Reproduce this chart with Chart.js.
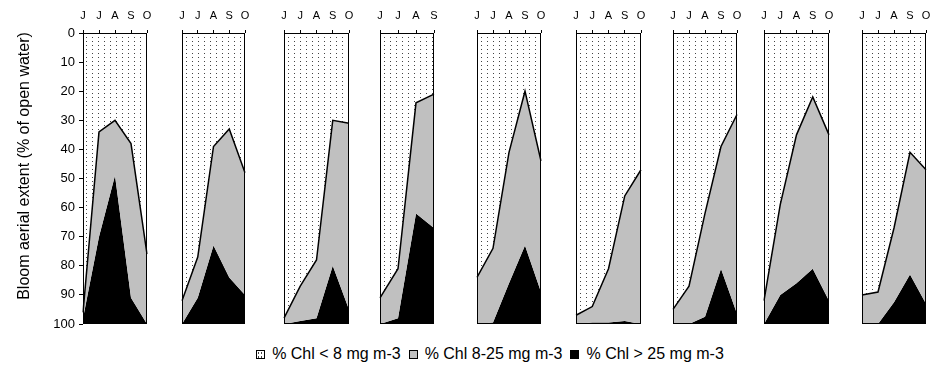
<!DOCTYPE html>
<html>
<head>
<meta charset="utf-8">
<script src="https://cdn.jsdelivr.net/npm/chart.js@4.4.1/dist/chart.umd.min.js"></script>
<style>
    body { margin: 0; background: #fff; font-family: "Liberation Sans", Arial, sans-serif; }
    #wrap { position: relative; width: 940px; height: 371px; overflow: hidden; }
    .panel { position: absolute; top: 0; }
    #legend { position: absolute; top: 345px; left: 10px; width: 960px; display: flex; justify-content: center;
              font-size: 16px; color: #000; white-space: nowrap; line-height: 18px; }
    .item { display: flex; align-items: center; margin: 0 4px; }
    .box { width: 7px; height: 7px; border: 1px solid #000; margin-right: 7px; }
</style>
</head>
<body>
<div id="wrap">
    <div id="legend"></div>
</div>
<script>
    // month labels (first panel starts in June)
    const months = ['J', 'J', 'A', 'S', 'O'];

    // % of open water in each chlorophyll class, one row per panel
    const chlLow = [
        [96, 34, 30, 38, 76],
        [92, 77, 39, 33, 48],
        [98, 87, 78, 30, 31],
        [91, 81, 24, 21],
        [84, 74, 41, 20, 44],
        [97, 94, 81, 56, 47],
        [95, 87, 62, 39, 28],
        [92, 59, 35, 22, 35],
        [90, 89, 67, 41, 47]
    ];
    const chlMid = [
        [2, 36, 19, 53, 24],
        [8, 14, 34, 51, 42],
        [2, 12, 20, 50, 64],
        [9, 17, 38, 46],
        [16, 25.5, 45, 53, 45],
        [3, 5.5, 18.5, 43, 53],
        [5, 13, 35.5, 42, 68.5],
        [8, 31, 51, 59, 57],
        [10, 11, 25.5, 42, 46]
    ];
    const chlHigh = [
        [2, 30, 51, 9, 0],
        [0, 9, 27, 16, 10],
        [0, 1, 2, 20, 5],
        [0, 2, 38, 33],
        [0, 0.5, 14, 27, 11],
        [0, 0.5, 0.5, 1, 0],
        [0, 0, 2.5, 19, 3.5],
        [0, 10, 14, 19, 8],
        [0, 0, 7.5, 17, 7]
    ];
    const seriesNames = ['% Chl < 8 mg m-3', '% Chl 8-25 mg m-3', '% Chl > 25 mg m-3'];
    const yTitle = 'Bloom aerial extent (% of open water)';

    // panel placement on the page
    const panelLeft = [83, 182, 284, 380, 477, 576, 673, 764, 862];
    const panelRight = [147, 245, 349, 434, 541, 641, 737, 829, 926];
    const yAxisWidth = 83;

    const midGray = '#c0c0c0';
    const font = '"Liberation Sans", Arial, sans-serif';

    function dotPattern() {
        const c = document.createElement('canvas');
        c.width = 6; c.height = 4;
        const g = c.getContext('2d');
        g.fillStyle = '#fff';
        g.fillRect(0, 0, 6, 4);
        g.fillStyle = '#444';
        g.fillRect(2, 1, 1, 1);
        return g.createPattern(c, 'repeat');
    }
    const dots = dotPattern();

    // black frame round each panel
    const framePlugin = {
        id: 'frame',
        afterDatasetsDraw(chart) {
            const { ctx, chartArea: a } = chart;
            ctx.save();
            ctx.strokeStyle = '#000';
            ctx.lineWidth = 1;
            ctx.strokeRect(a.left + 0.5, a.top + 0.5, a.right - a.left - 1, a.bottom - a.top - 1);
            ctx.restore();
        }
    };

    // rotated y title, drawn only on the first panel
    const yTitlePlugin = {
        id: 'ytitle',
        afterDraw(chart) {
            const ctx = chart.ctx;
            ctx.save();
            ctx.translate(25, 166);
            ctx.rotate(-Math.PI / 2);
            ctx.font = '16px ' + font;
            ctx.fillStyle = '#000';
            ctx.textAlign = 'center';
            ctx.textBaseline = 'middle';
            ctx.fillText(yTitle, 0, 0);
            ctx.restore();
        }
    };

    const wrap = document.getElementById('wrap');

    chlLow.forEach(function (low, i) {
        const first = i === 0;
        const padL = first ? 0 : 4;
        const left = first ? 0 : panelLeft[i] - padL;
        const width = panelRight[i] - left + 4;
        const height = 330;

        const div = document.createElement('div');
        div.className = 'panel';
        div.style.left = left + 'px';
        const canvas = document.createElement('canvas');
        canvas.width = width;
        canvas.height = height;
        div.appendChild(canvas);
        wrap.appendChild(div);

        new Chart(canvas, {
            type: 'line',
            data: {
                labels: months.slice(0, low.length),
                datasets: [
                    {
                        label: seriesNames[0],
                        data: low,
                        fill: 'origin',
                        backgroundColor: dots,
                        borderColor: '#000',
                        borderWidth: 1.5
                    },
                    {
                        label: seriesNames[1],
                        data: chlMid[i],
                        fill: '-1',
                        backgroundColor: midGray,
                        borderWidth: 0
                    },
                    {
                        label: seriesNames[2],
                        data: chlHigh[i],
                        fill: '-1',
                        backgroundColor: '#000',
                        borderWidth: 0
                    }
                ]
            },
            plugins: first ? [framePlugin, yTitlePlugin] : [framePlugin],
            options: {
                responsive: false,
                animation: false,
                layout: { padding: { left: padL, right: 4, top: 0, bottom: 6 } },
                elements: { point: { radius: 0 }, line: { tension: 0 } },
                plugins: { legend: { display: false }, tooltip: { enabled: false } },
                scales: {
                    x: {
                        position: 'top',
                        afterFit: function (s) {
                            s.height = 33;
                            s.paddingLeft = 0;
                            s.paddingRight = 0;
                        },
                        grid: { drawOnChartArea: false, tickLength: 3, color: '#000' },
                        border: { display: false },
                        ticks: {
                            color: '#000', padding: 7, maxRotation: 0, autoSkip: false,
                            font: { family: font, size: 11 }
                        }
                    },
                    y: {
                        display: first,
                        stacked: true,
                        reverse: true,
                        min: 0,
                        max: 100,
                        afterFit: function (s) {
                            s.width = first ? yAxisWidth : 0;
                            s.paddingTop = 0;
                            s.paddingBottom = 0;
                        },
                        grid: { drawOnChartArea: false, tickLength: 4, color: '#000' },
                        border: { display: false },
                        ticks: {
                            stepSize: 10, color: '#000', padding: 4,
                            font: { family: font, size: 13 }
                        }
                    }
                }
            }
        });
    });

    // legend under the panels
    const legend = document.getElementById('legend');
    const boxFill = ['dots', midGray, '#000'];
    seriesNames.forEach(function (name, k) {
        const item = document.createElement('span');
        item.className = 'item';
        const box = document.createElement('span');
        box.className = 'box';
        if (boxFill[k] === 'dots') {
            box.style.background = 'radial-gradient(circle, #444 0.6px, transparent 0.9px) 0 0 / 3px 4px #fff';
        } else {
            box.style.background = boxFill[k];
        }
        item.appendChild(box);
        item.appendChild(document.createTextNode(name));
        legend.appendChild(item);
    });
</script>
</body>
</html>
